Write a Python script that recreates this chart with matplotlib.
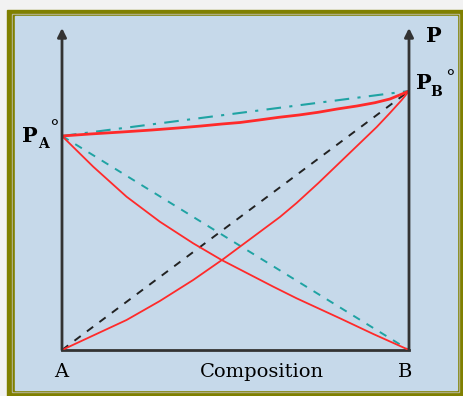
"""Vapour pressure vs composition sketch (non-ideal binary mixture)."""

import matplotlib.pyplot as plt
from matplotlib.patches import Rectangle

# pressures in arbitrary units (pure components)
p_a = 214
p_b = 259
p_top = 322

# ideal (Raoult) lines: end points only
ideal_x = [0.0, 1.0]
ideal_total = [p_a, p_b]
ideal_pa = [p_a, 0]
ideal_pb = [0, p_b]

total_x = [0.0, 0.081, 0.173, 0.259, 0.334, 0.401, 0.461, 0.513, 0.568,
           0.625, 0.683, 0.738, 0.793, 0.850, 0.902, 0.945, 0.980, 1.0]
total_p = [214, 216, 218, 220, 222, 224, 226, 227.5, 230,
           232.7, 235, 237.7, 241, 244, 247.3, 251, 256, 259]

# real partial pressure of A
pa_x = [0.0, 0.090, 0.186, 0.282, 0.378, 0.460, 0.513, 0.609,
        0.676, 0.801, 0.897, 1.0]
pa_p = [214, 183.3, 153.3, 128.3, 106.7, 90, 80.5, 63.3, 51.7, 31.7, 16, 0]

# real partial pressure of B
pb_x = [0.0, 0.186, 0.282, 0.378, 0.465, 0.628, 0.676, 0.739, 0.820,
        0.907, 0.945, 0.979, 1.0]
pb_p = [0, 30, 49, 70, 91, 133, 147, 167, 194, 223, 237, 250, 259]

W, H = 464, 396
BG = "#c6d9ea"
OLIVE = "#808000"
AXIS = "#333333"
TEAL = "#1fa3a3"
RED = "#ff2a2a"

fig = plt.figure(figsize=(W / 100, H / 100), dpi=100, facecolor="#f2f2f2")


def px_rect(x0, y0, x1, y1, color):
    # rectangle given in pixel coords, origin top-left
    fig.patches.append(Rectangle((x0 / W, 1 - y1 / H), (x1 - x0) / W, (y1 - y0) / H,
                                 transform=fig.transFigure, color=color, zorder=-1))


# frame around the picture
px_rect(7, 10, W, H, OLIVE)
px_rect(12, 14, 459, 392, "#b8b8a0")
px_rect(13, 15, 458, 391, OLIVE)
px_rect(15, 16, 457, 390, BG)

ax = fig.add_axes([62 / W, 46 / H, 347 / W, 322 / H])
ax.set_zorder(1)
ax.set_xlim(0, 1)
ax.set_ylim(0, p_top)
ax.axis("off")

# axes with arrows
for x in (0, 1):
    ax.annotate("", xy=(x, p_top), xytext=(x, 0),
                arrowprops=dict(arrowstyle="-|>", lw=2, color=AXIS, mutation_scale=13,
                                shrinkA=0, shrinkB=0), annotation_clip=False)
ax.plot([0, 1], [0, 0], color=AXIS, lw=2, solid_capstyle="projecting", clip_on=False)

# ideal lines
ax.plot(ideal_x, ideal_total, color=TEAL, lw=1.5, dashes=(7, 4, 1.5, 4))
ax.plot(ideal_x, ideal_pa, color=TEAL, lw=1.4, dashes=(4, 4))
ax.plot(ideal_x, ideal_pb, color="#222222", lw=1.4, dashes=(4, 4))

# real curves
ax.plot(total_x, total_p, color=RED, lw=2)
ax.plot(pa_x, pa_p, color=RED, lw=1.3)
ax.plot(pb_x, pb_p, color=RED, lw=1.3)

serif = "DejaVu Serif"
# labels
ax.annotate("P", xy=(0, p_a), xytext=(-40, 0), textcoords="offset pixels",
            family=serif, weight="bold", fontsize=15, ha="left", va="center")
ax.annotate("A", xy=(0, p_a), xytext=(-24, -8), textcoords="offset pixels",
            family=serif, weight="bold", fontsize=10, ha="left", va="center")
ax.annotate("°", xy=(0, p_a), xytext=(-13, 8), textcoords="offset pixels",
            family=serif, fontsize=14, ha="left", va="center")

ax.annotate("P", xy=(1, p_top), xytext=(17, -8), textcoords="offset pixels",
            family=serif, weight="bold", fontsize=15, ha="left", va="center")
ax.annotate("P", xy=(1, p_b), xytext=(7, 8), textcoords="offset pixels",
            family=serif, weight="bold", fontsize=15, ha="left", va="center")
ax.annotate("B", xy=(1, p_b), xytext=(21, -1), textcoords="offset pixels",
            family=serif, weight="bold", fontsize=10, ha="left", va="center")
ax.annotate("°", xy=(1, p_b), xytext=(36, 13), textcoords="offset pixels",
            family=serif, fontsize=14, ha="left", va="center")

ax.annotate("A", xy=(0, 0), xytext=(-1, -22), textcoords="offset pixels",
            family=serif, fontsize=14, ha="center", va="center")
ax.annotate("B", xy=(1, 0), xytext=(-4, -22), textcoords="offset pixels",
            family=serif, fontsize=14, ha="center", va="center")
ax.annotate("Composition", xy=(0.577, 0), xytext=(0, -22), textcoords="offset pixels",
            family=serif, fontsize=14, ha="center", va="center")

fig.savefig("out.png", dpi=100, facecolor=fig.get_facecolor())
